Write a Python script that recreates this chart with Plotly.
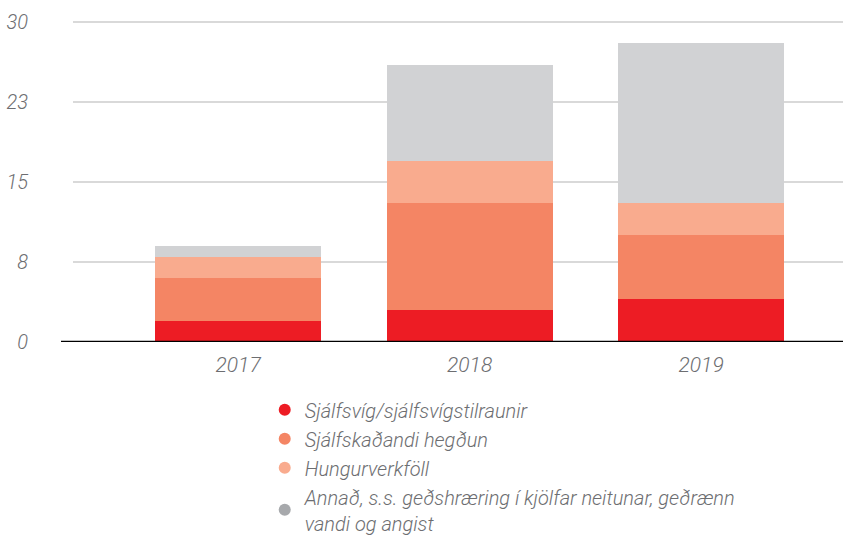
import plotly.graph_objects as go

years = ["2017", "2018", "2019"]
series_names = [
    "Sjálfsvíg/sjálfsvígstilraunir",
    "Sjálfskaðandi hegðun",
    "Hungurverkföll",
    "Annað, s.s. geðshræring í kjölfar neitunar, geðrænn<br>vandi og angist",
]
suicide = [2, 3, 4]
selfharm = [4, 10, 6]
hunger = [2, 4, 3]
other = [1, 9, 15]
values = [suicide, selfharm, hunger, other]
bar_colors = ["#ED1C24", "#F48564", "#F9AB8E", "#D1D2D4"]
legend_colors = ["#ED1C24", "#F48564", "#F9AB8E", "#A7A9AC"]
tick_vals = [0, 7.5, 15, 22.5, 30]
tick_text = ["0", "8", "15", "23", "30"]

FONT = dict(family="Roboto, Liberation Sans, sans-serif", size=20, color="#6D6E71",
            style="italic", weight=300)
XFONT = dict(FONT, size=21)

fig = go.Figure()
for name, vals, c in zip(series_names, values, bar_colors):
    fig.add_trace(go.Bar(x=years, y=vals, marker=dict(color=c, line=dict(width=0)),
                         name=name, showlegend=False, hoverinfo="y"))
for name, c in zip(series_names, legend_colors):
    fig.add_trace(go.Scatter(x=[None], y=[None], mode="markers", name=name,
                             marker=dict(symbol="circle", size=16, color=c)))

fig.update_layout(
    width=843, height=537,
    margin=dict(l=73, r=0, t=20, b=195, autoexpand=False),
    barmode="stack", bargap=0.283,
    plot_bgcolor="white", paper_bgcolor="white",
    font=FONT,
    showlegend=True,
    legend=dict(x=0.249, y=-0.15, xanchor="left", yanchor="top",
                traceorder="normal", font=FONT, itemsizing="constant",
                bgcolor="rgba(0,0,0,0)"),
    xaxis=dict(range=[-0.713, 2.613], showgrid=False, showline=False, zeroline=False,
               tickfont=XFONT, ticks="", ticklabelstandoff=8),
    yaxis=dict(range=[0, 30.19], tickvals=tick_vals, ticktext=tick_text,
               showgrid=True, gridcolor="#D9D9D9", gridwidth=1.5,
               zeroline=False, showline=False, ticks="", tickfont=FONT,
               ticklabelstandoff=44),
    shapes=[dict(type="line", xref="paper", yref="y", x0=-12/770, x1=1, y0=0, y1=0,
                 line=dict(color="black", width=2.5), layer="above")],
)
fig.write_html("out.html", config={"displayModeBar": False},
               post_script="document.body.style.margin='0';document.body.style.overflow='hidden';")
